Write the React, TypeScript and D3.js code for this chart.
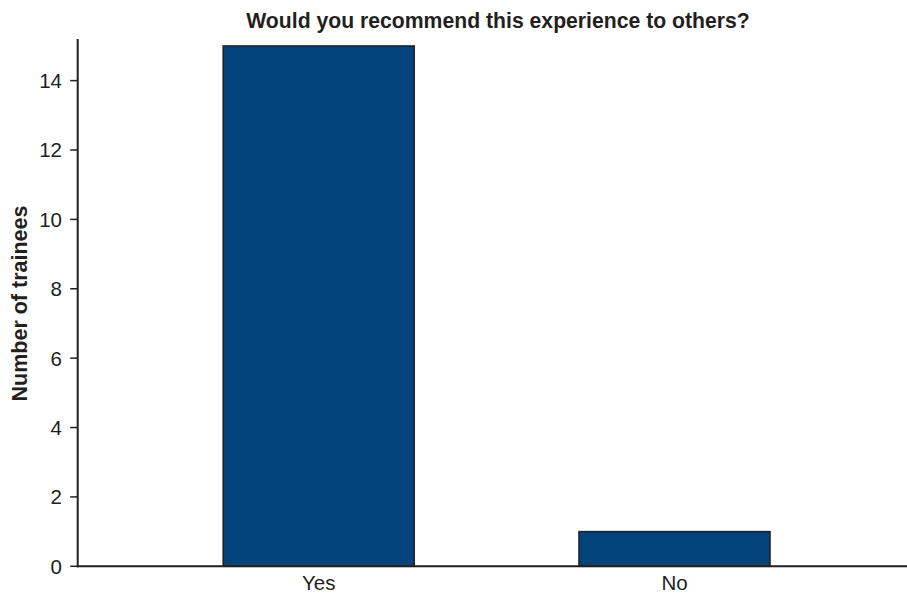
import React from "react";
import * as d3 from "d3";

const categories = ["Yes", "No"];
const counts = [15, 1];
const yTicks = [0, 2, 4, 6, 8, 10, 12, 14];
const title = "Would you recommend this experience to others?";
const yLabel = "Number of trainees";

export default function App() {
  const W = 907, H = 594;
  const axisLeft = 77.7, axisRight = 907, y0 = 566.3, yTop = 39;
  const x = d3.scaleBand<string>().domain(categories).range([140.8, 852.4]).paddingInner(0.463).paddingOuter(0.2315);
  const y = d3.scaleLinear().domain([0, 15.2]).range([y0, yTop]);
  const font = "Liberation Sans, Arial, Helvetica, sans-serif";
  const ink = "#231f20";
  return (
    <svg width={W} height={H} style={{ position: "absolute", left: 0, top: 0 }} fontFamily={font}>
      <text x={498} y={27.7} textAnchor="middle" fontWeight="bold" fontSize={21.2} fill={ink}>{title}</text>
      {categories.map((c, i) => (
        <rect key={c} x={x(c)!} y={y(counts[i])} width={x.bandwidth()} height={y0 - y(counts[i])}
          fill="#03437b" stroke={ink} strokeWidth={1.5} />
      ))}
      <line x1={axisLeft} x2={axisLeft} y1={yTop} y2={y0 + 1} stroke={ink} strokeWidth={2} />
      <line x1={axisLeft - 1} x2={axisRight} y1={y0} y2={y0} stroke={ink} strokeWidth={2} />
      {yTicks.map(t => (
        <g key={t}>
          <line x1={axisLeft - 7.5} x2={axisLeft} y1={y(t)} y2={y(t)} stroke={ink} strokeWidth={1.5} />
          <text x={62} y={y(t)} dy="0.36em" textAnchor="end" fontSize={20.5} fill={ink}>{t}</text>
        </g>
      ))}
      {categories.map(c => (
        <text key={c} x={x(c)! + x.bandwidth() / 2} y={589.5} textAnchor="middle" fontSize={20.5} fill={ink}>{c}</text>
      ))}
      <text transform={`translate(26.5,303.5) rotate(-90)`} textAnchor="middle" fontWeight="bold" fontSize={21.5} fill={ink}>{yLabel}</text>
    </svg>
  );
}
